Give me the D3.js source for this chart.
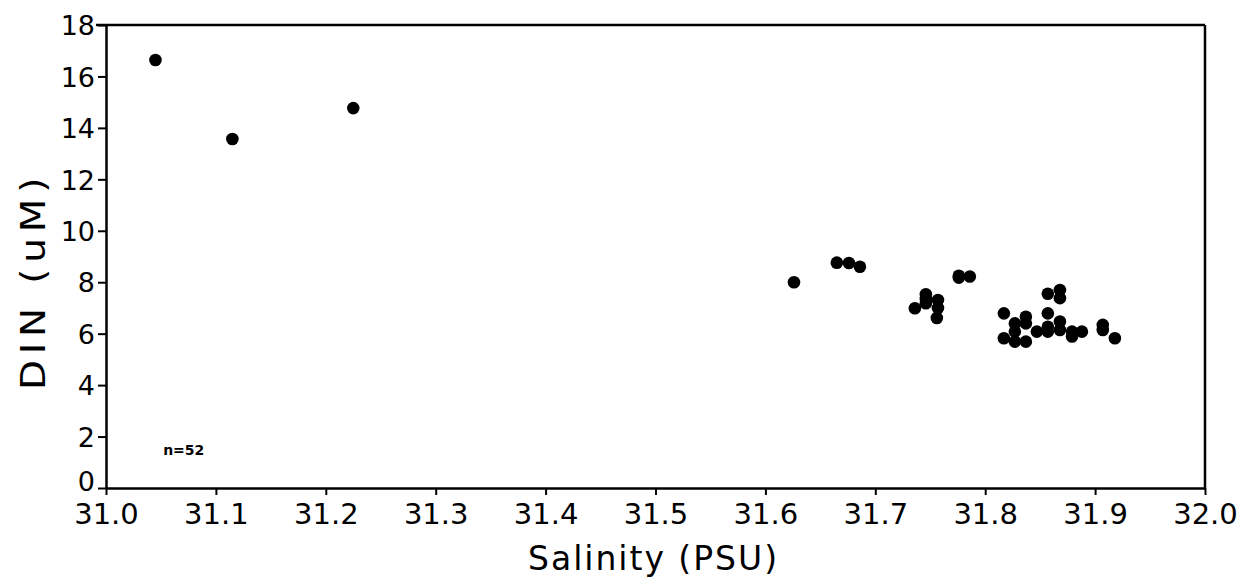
<!DOCTYPE html>
<html>
<head>
<meta charset="utf-8">
<script src="https://cdn.jsdelivr.net/npm/d3@7"></script>
<style>
  body { margin: 0; background: #fff; }
  text { font-family: "DejaVu Sans", sans-serif; fill: #000; }
</style>
</head>
<body>
<svg id="chart" width="1246" height="584"></svg>
<script>
// salinity (PSU) and DIN (uM)
const salinity = [
  31.045, 31.115, 31.225,
  31.626, 31.665, 31.676, 31.686,
  31.736, 31.746, 31.746, 31.746, 31.757, 31.757, 31.756,
  31.776, 31.776, 31.786,
  31.817, 31.817, 31.827, 31.827, 31.827, 31.837, 31.837, 31.837,
  31.847, 31.857, 31.857, 31.857, 31.857,
  31.868, 31.868, 31.868, 31.868,
  31.879, 31.879, 31.888, 31.907, 31.907, 31.918
];
const din = [
  16.64, 13.57, 14.77,
  8.0, 8.76, 8.75, 8.6,
  6.99, 7.53, 7.35, 7.18, 7.31, 7.0, 6.61,
  8.25, 8.18, 8.22,
  6.79, 5.82, 6.4, 6.08, 5.69, 6.66, 6.4, 5.69,
  6.08, 7.55, 6.79, 6.27, 6.08,
  7.7, 7.38, 6.47, 6.14,
  6.08, 5.89, 6.08, 6.34, 6.14, 5.82
];
const xTicks = [31.0, 31.1, 31.2, 31.3, 31.4, 31.5, 31.6, 31.7, 31.8, 31.9, 32.0];
const yTicks = [0, 2, 4, 6, 8, 10, 12, 14, 16, 18];
const note = "n=52";

const margin = { left: 106, top: 25, right: 41, bottom: 96 };
const width = 1246 - margin.left - margin.right;
const height = 584 - margin.top - margin.bottom;

const svg = d3.select("#chart");
const g = svg.append("g")
  .attr("transform", "translate(" + margin.left + "," + margin.top + ")");

const x = d3.scaleLinear().domain([31, 32]).range([0, width]);
const y = d3.scaleLinear().domain([0, 18]).range([height, 0]);

// frame: top and right lines
g.append("line")
  .attr("x1", -10).attr("x2", width)
  .attr("y1", 0).attr("y2", 0)
  .attr("stroke", "#000").attr("stroke-width", 2.5);
g.append("line")
  .attr("x1", width).attr("x2", width)
  .attr("y1", 0).attr("y2", height)
  .attr("stroke", "#000").attr("stroke-width", 2.5);

// x axis
const xAxis = g.append("g")
  .attr("transform", "translate(0," + height + ")")
  .call(d3.axisBottom(x).tickValues(xTicks).tickFormat(d3.format(".1f"))
    .tickSizeInner(7).tickSizeOuter(0).tickPadding(8));
xAxis.select(".domain").attr("stroke-width", 2.5);
xAxis.selectAll(".tick line").attr("stroke-width", 2);
xAxis.selectAll("text")
  .style("font-size", "29px")
  .attr("fill", "#000");

// y axis
const yAxis = g.append("g")
  .call(d3.axisLeft(y).tickValues(yTicks)
    .tickSizeInner(8).tickSizeOuter(0).tickPadding(3));
yAxis.select(".domain").attr("stroke-width", 2.5);
yAxis.selectAll(".tick line").attr("stroke-width", 2);
yAxis.selectAll("text")
  .style("font-size", "27px")
  .attr("fill", "#000")
  .attr("dy", function (d) { return d === 0 ? "0.1em" : "0.36em"; });

// axis titles
svg.append("text")
  .attr("x", 528)
  .attr("y", 570)
  .attr("textLength", 249)
  .attr("lengthAdjust", "spacing")
  .style("font-size", "33px")
  .text("Salinity (PSU)");

svg.append("text")
  .attr("transform", "translate(45,390) rotate(-90) scale(1.18,1)")
  .attr("textLength", 180)
  .attr("lengthAdjust", "spacing")
  .style("font-size", "33px")
  .text("DIN (uM)");

// points
g.selectAll("circle.pt")
  .data(salinity.map(function (s, i) { return [s, din[i]]; }))
  .enter()
  .append("circle")
  .classed("pt", true)
  .attr("cx", function (d) { return x(d[0]); })
  .attr("cy", function (d) { return y(d[1]); })
  .attr("r", 6.3)
  .attr("fill", "#000");

// sample count
g.append("text")
  .attr("x", x(31.052))
  .attr("y", y(1.3))
  .style("font-size", "14px")
  .style("font-weight", "bold")
  .text(note);
</script>
</body>
</html>
